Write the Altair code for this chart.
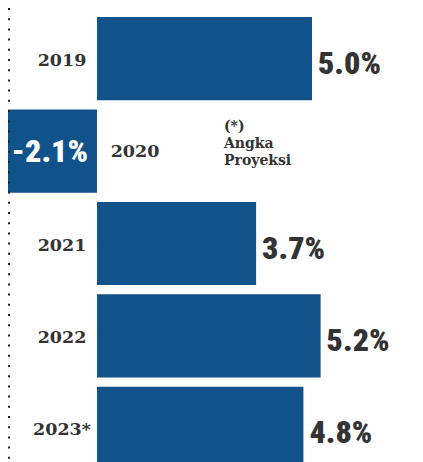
import altair as alt
import pandas as pd

years = ["2019", "2020", "2021", "2022", "2023*"]
growth = [5.0, -2.1, 3.7, 5.2, 4.8]
labels = ["5.0%", "-2.1%", "3.7%", "5.2%", "4.8%"]
note = "(*)\nAngka\nProyeksi"

df = pd.DataFrame({"year": years, "value": growth, "label": labels})

BAR = "#12528a"
TXT = "#333333"
NUMFONT = "Roboto Condensed, Liberation Sans Narrow, Roboto, sans-serif"
SERIF = "DejaVu Serif, serif"

xs = alt.Scale(domain=[-2.07, 7.395], nice=False, zero=False)
ys = alt.Scale(domain=years, paddingInner=0.1, paddingOuter=0.097)

base = alt.Chart(df).encode(
    y=alt.Y("year:N", scale=ys, axis=None, sort=years),
)

bars = base.mark_bar(color=BAR, clip=True).encode(
    x=alt.X("value:Q", scale=xs, axis=None),
    x2=alt.datum(0),
)

pos_lab = base.transform_filter("datum.value >= 0").mark_text(
    align="left", baseline="middle", dx=6, dy=5,
    font=NUMFONT, fontSize=32, fontWeight=900, color=TXT,
).encode(x=alt.X("value:Q", scale=xs), text="label:N")

neg_lab = base.transform_filter("datum.value < 0").mark_text(
    align="right", baseline="middle", dx=-9, dy=1,
    font=NUMFONT, fontSize=32, fontWeight=900, color="white",
).encode(x=alt.datum(0, scale=xs), text="label:N")

yr_pos = base.transform_filter("datum.value >= 0").mark_text(
    align="center", baseline="middle", dx=-35, dy=2,
    font=SERIF, fontSize=17.5, fontWeight="bold", color=TXT,
).encode(x=alt.datum(0, scale=xs), text="year:N")

yr_neg = base.transform_filter("datum.value < 0").mark_text(
    align="center", baseline="middle", dx=38, dy=1,
    font=SERIF, fontSize=17.5, fontWeight="bold", color=TXT,
).encode(x=alt.datum(0, scale=xs), text="year:N")

note_t = alt.Chart(pd.DataFrame({"t": [note]})).mark_text(
    align="left", baseline="top", lineBreak="\n", lineHeight=17,
    font=SERIF, fontSize=14, fontWeight="bold", color=TXT,
).encode(x=alt.value(216), y=alt.value(112), text="t:N")

dots = alt.Chart(pd.DataFrame({"a": [0]})).mark_rule(
    color="#222222", strokeWidth=2, strokeDash=[2, 8.2],
).encode(x=alt.value(1), y=alt.value(0), y2=alt.value(480))

chart = alt.layer(bars, pos_lab, neg_lab, yr_pos, yr_neg, note_t, dots).properties(
    width=407, height=471, padding=0,
    autosize=alt.AutoSizeParams(type="none"),
).configure_view(stroke=None)

chart.save("out.html", embed_options={"renderer": "svg", "actions": False})
